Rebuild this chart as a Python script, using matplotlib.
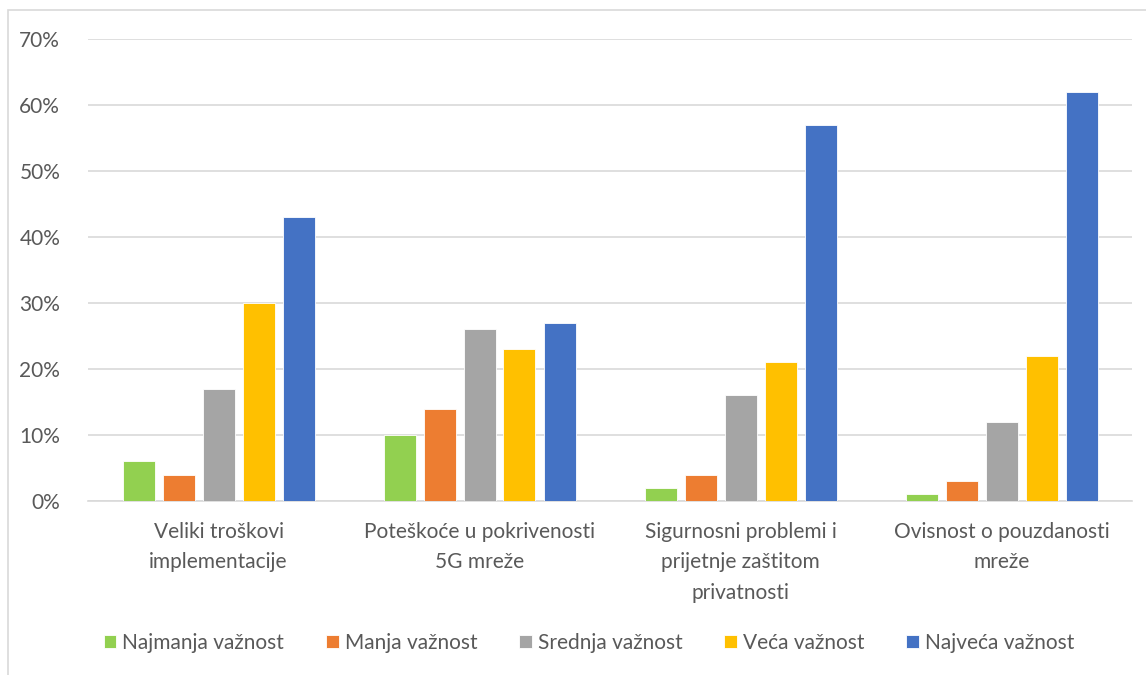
import matplotlib.pyplot as plt
import numpy as np
from matplotlib.patches import Rectangle
from matplotlib.ticker import PercentFormatter

plt.rcParams['font.family'] = ['Lato', 'DejaVu Sans']

categories = ["Veliki troškovi\nimplementacije",
              "Poteškoće u pokrivenosti\n5G mreže",
              "Sigurnosni problemi i\nprijetnje zaštitom\nprivatnosti",
              "Ovisnost o pouzdanosti\nmreže"]
series = ["Najmanja važnost", "Manja važnost", "Srednja važnost",
          "Veća važnost", "Najveća važnost"]
najmanja = [6, 10, 2, 1]
manja = [4, 14, 4, 3]
srednja = [17, 26, 16, 12]
veca = [30, 23, 21, 22]
najveca = [43, 27, 57, 62]
colors = ["#92D050", "#ED7D31", "#A5A5A5", "#FFC000", "#4472C4"]

values = [najmanja, manja, srednja, veca, najveca]

fig = plt.figure(figsize=(11.46, 6.75), dpi=100)
ax = fig.add_axes([88 / 1146, 174 / 675, (1132 - 88) / 1146, (636 - 174) / 675])

# chart border (cut off at right/bottom like the screenshot)
fig.patches.append(Rectangle((8 / 1146, -0.1), 1.2, (665 / 675) + 0.1,
                             transform=fig.transFigure, fill=False,
                             edgecolor="#D9D9D9", linewidth=1.2))

x = np.arange(len(categories))
step = 40 / 261
width = 32 / 261
for i, (name, vals, c) in enumerate(zip(series, values, colors)):
    ax.bar(x + (i - 2) * step, vals, width, color=c, label=name,
           edgecolor="white", linewidth=0.6, zorder=3)

ax.set_xlim(-0.5, 3.5)
ax.set_ylim(0, 70)
ax.set_yticks(range(0, 71, 10))
ax.yaxis.set_major_formatter(PercentFormatter(decimals=0))
ax.grid(axis="y", color="#D9D9D9", linewidth=1.2, zorder=0)
for s in ["top", "right", "left"]:
    ax.spines[s].set_visible(False)
ax.spines["bottom"].set_color("#D9D9D9")
ax.spines["bottom"].set_linewidth(1.2)
ax.tick_params(axis="both", length=0, colors="#595959", labelsize=15)
ax.tick_params(axis="y", pad=20)
ax.tick_params(axis="x", pad=15)
ax.set_xticks(x)
ax.set_xticklabels(categories, linespacing=1.65)

fig.legend(loc="center", bbox_to_anchor=(589 / 1146, 1 - 643 / 675), ncol=5,
           frameon=False, fontsize=15, labelcolor="#595959",
           handlelength=0.6, handleheight=0.6, handletextpad=0.3,
           columnspacing=2.0)

fig.savefig("out.png", dpi=100)
